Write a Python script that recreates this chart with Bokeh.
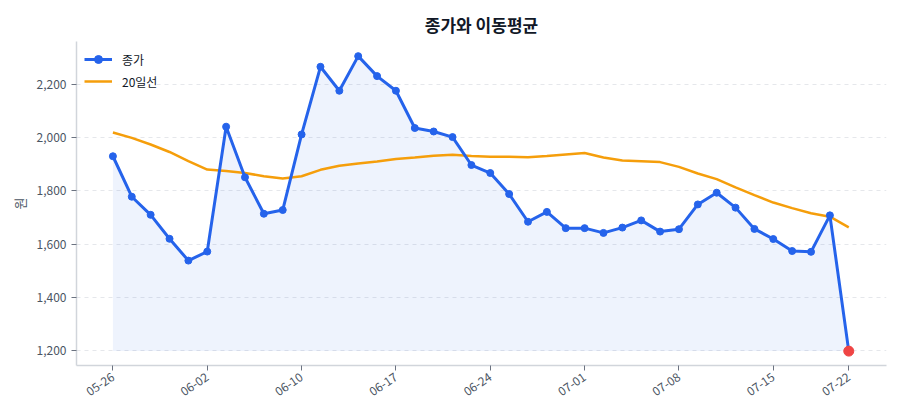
from bokeh.plotting import figure
from bokeh.models import Range1d, FixedTicker, NumeralTickFormatter
from bokeh.embed import file_html
from bokeh.resources import INLINE

# Trading-day closing prices (원) and the 20-day moving average
dates = ["05-26", "05-27", "05-28", "05-29", "05-30", "06-02", "06-04", "06-05", "06-06", "06-09",
         "06-10", "06-11", "06-12", "06-13", "06-16", "06-17", "06-18", "06-19", "06-20", "06-23",
         "06-24", "06-25", "06-26", "06-27", "06-30", "07-01", "07-02", "07-03", "07-04", "07-07",
         "07-08", "07-09", "07-10", "07-11", "07-14", "07-15", "07-16", "07-17", "07-18", "07-22"]
close = [1930, 1778, 1710, 1620, 1538, 1572, 2041, 1851, 1714, 1728,
         2012, 2266, 2176, 2306, 2231, 2176, 2036, 2023, 2002, 1897,
         1867, 1788, 1684, 1721, 1660, 1660, 1642, 1662, 1689, 1647,
         1656, 1749, 1793, 1737, 1657, 1619, 1574, 1571, 1708, 1198]
ma20 = [2019, 1999, 1974, 1946, 1912, 1880, 1875, 1867, 1855, 1846,
        1855, 1879, 1894, 1903, 1910, 1920, 1925, 1932, 1936, 1931,
        1928, 1928, 1926, 1931, 1937, 1942, 1925, 1914, 1911, 1908,
        1890, 1865, 1844, 1813, 1784, 1756, 1735, 1716, 1703, 1663]
tick_idx = [0, 5, 10, 15, 20, 25, 30, 35, 39]
y_ticks = [1200, 1400, 1600, 1800, 2000, 2200]

idx = list(range(len(close)))
base = min(close)

BLUE = "#2563eb"
ORANGE = "#f59e0b"
RED = "#ef4444"
FONT = "Noto Sans CJK KR"

p = figure(width=900, height=420, output_backend="svg", toolbar_location=None,
           x_range=Range1d(-1.93, 41.0), y_range=Range1d(1144, 2361),
           title="종가와 이동평균",
           min_border_left=76, min_border_right=14, min_border_top=41, min_border_bottom=55)

p.title.align = "center"
p.title.text_font = FONT
p.title.text_font_size = "17px"
p.title.text_font_style = "bold"
p.title.text_color = "#111827"

# shaded area under the closing price
p.varea(x=idx, y1=[base] * len(idx), y2=close, fill_color=BLUE, fill_alpha=0.08)

p.line(idx, ma20, line_color=ORANGE, line_width=2.5, legend_label="20일선")
p.line(idx, close, line_color=BLUE, line_width=3, legend_label="종가")
p.scatter(idx, close, size=7, fill_color=BLUE, line_color=BLUE, legend_label="종가")
p.scatter([idx[-1]], [close[-1]], size=10, fill_color=RED, line_color=RED)

# closing price first in the legend, moving average second
items = p.legend[0].items
p.legend[0].items = [items[1], items[0]]

# axes
p.xaxis.ticker = FixedTicker(ticks=tick_idx)
p.xaxis.major_label_overrides = {i: dates[i] for i in tick_idx}
p.xaxis.major_label_orientation = 0.6
p.yaxis.ticker = FixedTicker(ticks=y_ticks)
p.yaxis.formatter = NumeralTickFormatter(format="0,0")
p.yaxis.axis_label = "원"
p.yaxis.axis_label_text_font = FONT
p.yaxis.axis_label_text_font_style = "normal"
p.yaxis.axis_label_text_font_size = "13px"
p.yaxis.axis_label_text_color = "#4b5563"

for ax in (p.xaxis, p.yaxis):
    ax.axis_line_color = "#d1d5db"
    ax.axis_line_width = 1.5
    ax.major_tick_line_color = "#6b7280"
    ax.major_tick_out = 5
    ax.major_tick_in = 0
    ax.minor_tick_line_color = None
    ax.major_label_text_font = FONT
    ax.major_label_text_font_size = "12px"
    ax.major_label_text_color = "#4b5563"

p.xgrid.grid_line_color = None
p.ygrid.grid_line_color = "#e5e7eb"
p.ygrid.grid_line_dash = "4 4"
p.outline_line_color = None

p.legend.location = "top_left"
p.legend.border_line_color = None
p.legend.background_fill_alpha = 0.9
p.legend.label_text_font = FONT
p.legend.label_text_font_size = "12px"
p.legend.label_text_color = "#111827"
p.legend.glyph_width = 28
p.legend.label_standoff = 10
p.legend.spacing = 2
p.legend.padding = 4
p.legend.margin = 8

open("out.html", "w").write(file_html(p, INLINE))
